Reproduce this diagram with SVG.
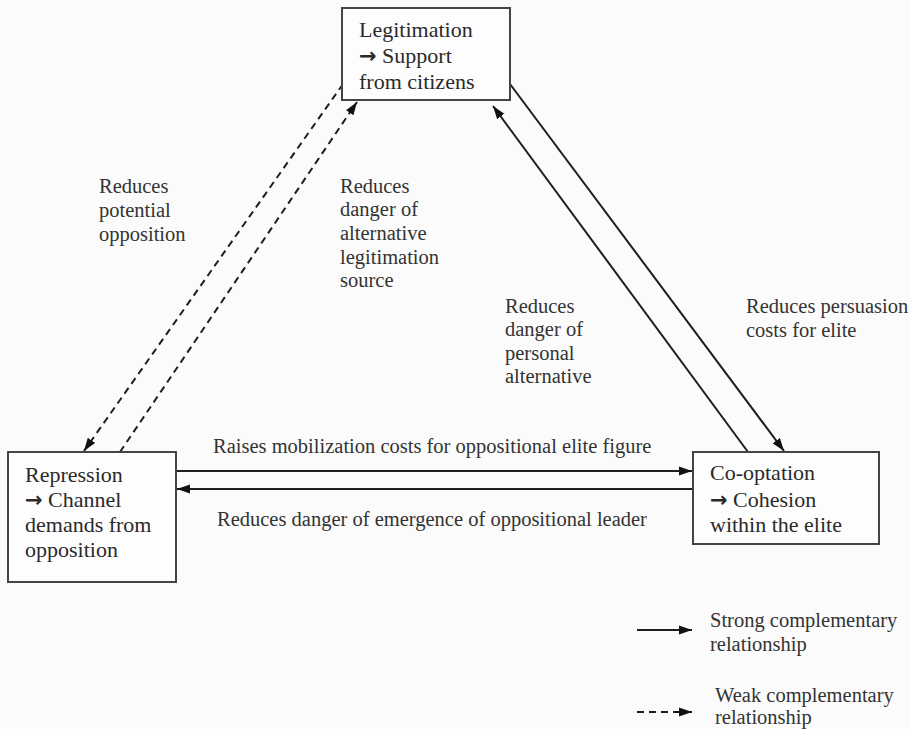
<svg xmlns="http://www.w3.org/2000/svg" width="909" height="729" viewBox="0 0 909 729">
<style>
.box{fill:#fdfdfd;stroke:#444;stroke-width:2}
text{font-family:'Liberation Serif','DejaVu Serif',serif}
.nt{font-size:22px;fill:#2a2a2a}
.lb{font-size:20.5px;fill:#333}
.ar{font-family:'DejaVu Sans',sans-serif;font-weight:bold;font-size:21px}
.c{stroke:#1e1e1e;stroke-width:2;fill:none}
.d{stroke-dasharray:7 5}
</style>
<defs>
<marker id="ah" markerUnits="userSpaceOnUse" markerWidth="14" markerHeight="10" refX="13" refY="5" orient="auto">
<path d="M0,0.5 L13,5 L0,9.5 z" fill="#111"/>
</marker>
</defs>
<rect width="909" height="729" fill="#fbfbfb"/>
<g id="connectors">
<line class="c" x1="176" y1="471" x2="692" y2="471" marker-end="url(#ah)"/>
<line class="c" x1="693" y1="489" x2="177" y2="489" marker-end="url(#ah)"/>
<line class="c" x1="510" y1="84" x2="784" y2="451" marker-end="url(#ah)"/>
<line class="c" x1="748" y1="452" x2="493" y2="106" marker-end="url(#ah)"/>
<line class="c d" x1="343" y1="84" x2="84" y2="451" marker-end="url(#ah)"/>
<line class="c d" x1="120" y1="452" x2="357" y2="102" marker-end="url(#ah)"/>
</g>
<g id="legitimation">
<rect class="box" x="342" y="8" width="168" height="92"/>
<text class="nt" x="359" y="37">Legitimation</text>
<text class="nt" x="359" y="63"><tspan class="ar">→</tspan> Support</text>
<text class="nt" x="359" y="89">from citizens</text>
</g>
<g id="repression">
<rect class="box" x="8" y="452" width="168" height="130"/>
<text class="nt" x="25" y="482">Repression</text>
<text class="nt" x="25" y="507"><tspan class="ar">→</tspan> Channel</text>
<text class="nt" x="25" y="532">demands from</text>
<text class="nt" x="25" y="557">opposition</text>
</g>
<g id="cooptation">
<rect class="box" x="693" y="452" width="186" height="92"/>
<text class="nt" x="710" y="480">Co-optation</text>
<text class="nt" x="710" y="507"><tspan class="ar">→</tspan> Cohesion</text>
<text class="nt" x="710" y="532">within the elite</text>
</g>
<g id="labels">
<text class="lb" x="99" y="193">Reduces</text>
<text class="lb" x="99" y="217">potential</text>
<text class="lb" x="99" y="241">opposition</text>
<text class="lb" x="340" y="193">Reduces</text>
<text class="lb" x="340" y="216">danger of</text>
<text class="lb" x="340" y="240">alternative</text>
<text class="lb" x="340" y="264">legitimation</text>
<text class="lb" x="340" y="287">source</text>
<text class="lb" x="505" y="313">Reduces</text>
<text class="lb" x="505" y="336">danger of</text>
<text class="lb" x="505" y="360">personal</text>
<text class="lb" x="505" y="383">alternative</text>
<text class="lb" x="746" y="313">Reduces persuasion</text>
<text class="lb" x="746" y="337">costs for elite</text>
<text class="lb" x="213" y="453">Raises mobilization costs for oppositional elite figure</text>
<text class="lb" x="217" y="526">Reduces danger of emergence of oppositional leader</text>
</g>
<g id="legend">
<line class="c" x1="637" y1="630" x2="692" y2="630" marker-end="url(#ah)"/>
<line class="c d" x1="637" y1="712" x2="692" y2="712" marker-end="url(#ah)"/>
<text class="lb" x="710" y="627">Strong complementary</text>
<text class="lb" x="710" y="651">relationship</text>
<text class="lb" x="715" y="702">Weak complementary</text>
<text class="lb" x="715" y="724">relationship</text>
</g>
</svg>
